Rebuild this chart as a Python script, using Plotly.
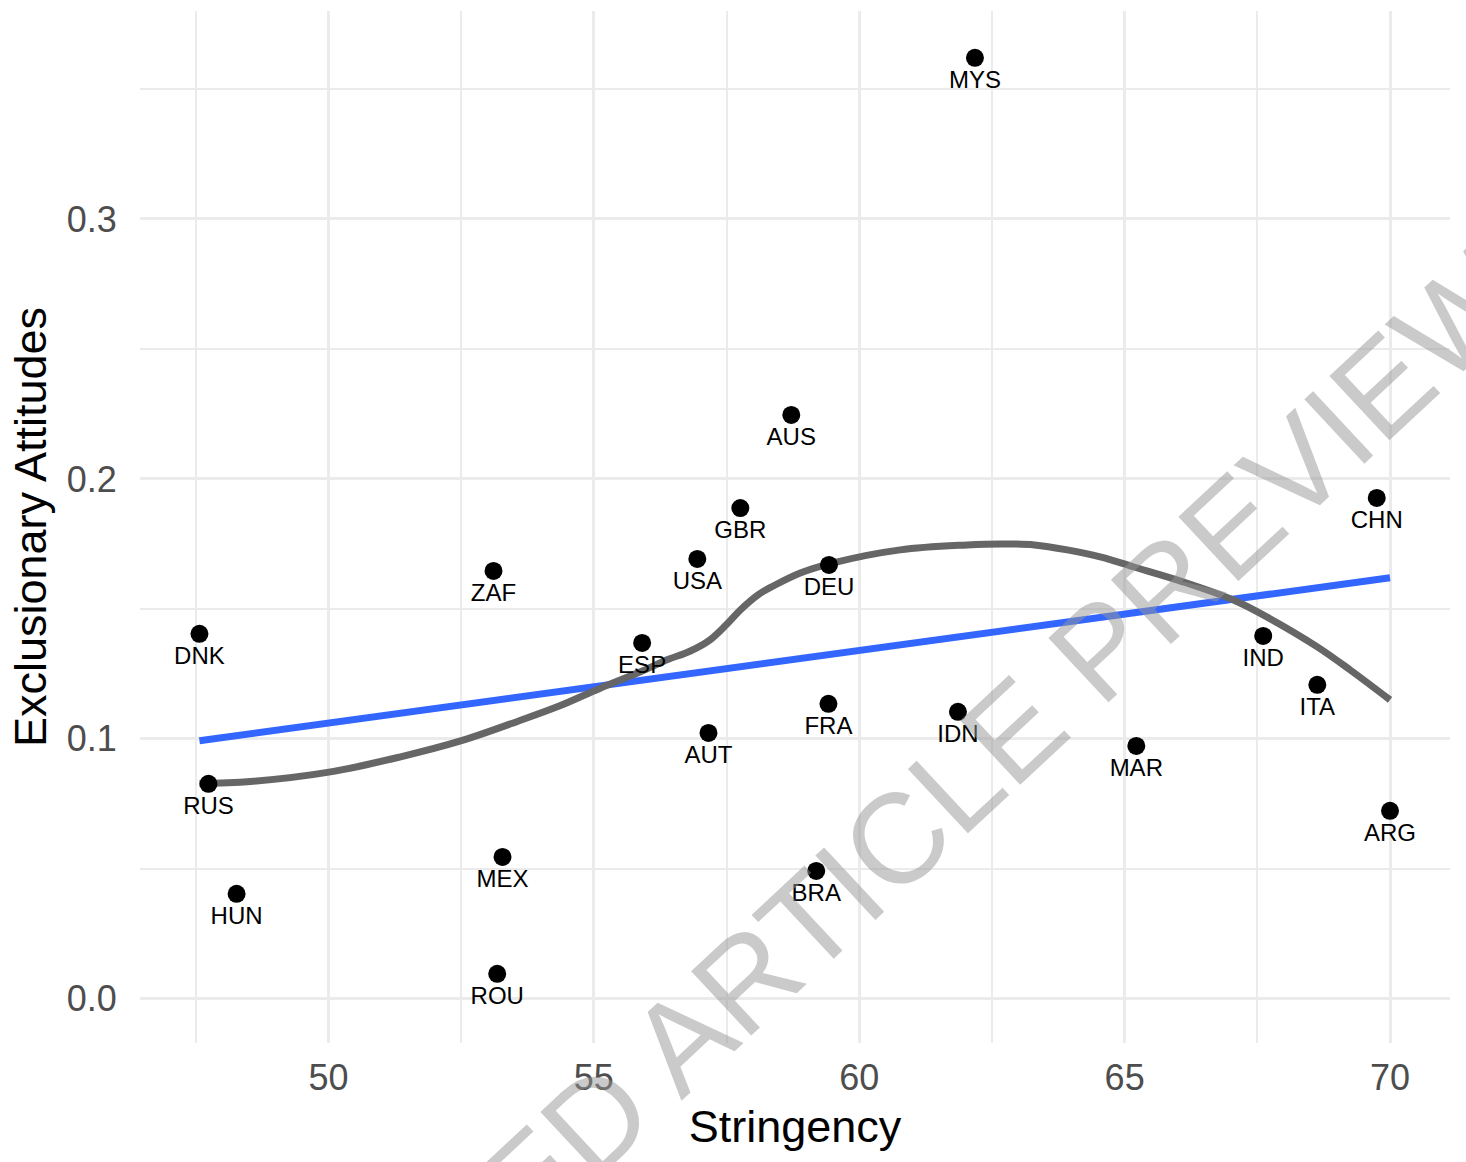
import numpy as np
import plotly.graph_objects as go

# ---- data ----
countries = ["MYS", "AUS", "GBR", "USA", "ZAF", "DEU", "CHN", "DNK", "ESP", "IND", "ITA",
             "FRA", "IDN", "AUT", "MAR", "RUS", "ARG", "MEX", "BRA", "HUN", "ROU"]
stringency = [62.18, 58.72, 57.76, 56.95, 53.11, 59.43, 69.75, 47.57, 55.91, 67.61, 68.63,
              59.42, 61.86, 57.16, 65.22, 47.74, 70.00, 53.28, 59.19, 48.27, 53.18]
exclusionary = [0.362, 0.2246, 0.1888, 0.1692, 0.1646, 0.1669, 0.1927, 0.1404, 0.1369, 0.1396, 0.1208,
                0.1135, 0.1104, 0.1023, 0.0973, 0.0827, 0.0723, 0.0546, 0.0492, 0.0404, 0.0096]

# loess curve
smooth_x = [47.57, 48.53, 50.04, 51.36, 52.49, 53.56, 54.37, 55.12, 55.88, 56.38, 56.82, 57.19,
            57.50, 57.76, 58.10, 58.38, 58.89, 59.51, 60.77, 62.03, 62.66, 63.30, 63.92, 64.54,
            65.16, 66.10, 67.04, 67.68, 68.63, 69.25, 70.00]
smooth_y = [0.0828, 0.0836, 0.0873, 0.0931, 0.0992, 0.1067, 0.1128, 0.1195, 0.1258, 0.1304, 0.1338, 0.1381,
            0.1440, 0.1496, 0.1555, 0.1588, 0.1638, 0.1677, 0.1727, 0.1746, 0.1750, 0.1746, 0.1727, 0.1700,
            0.1662, 0.1604, 0.1535, 0.1469, 0.1354, 0.1265, 0.1150]

x_ticks = [50, 55, 60, 65, 70]
x_minor = [47.5, 52.5, 57.5, 62.5, 67.5]
y_ticks = [0.0, 0.1, 0.2, 0.3]
y_tick_labels = ["0.0", "0.1", "0.2", "0.3"]
y_minor = [0.05, 0.15, 0.25, 0.35]

# linear fit (geom_smooth method = "lm")
xs = np.array(stringency)
ys = np.array(exclusionary)
slope, intercept = np.polyfit(xs, ys, 1)
lm_x = np.array([xs.min(), xs.max()])
lm_y = intercept + slope * lm_x

FONT = "Liberation Sans, Arial, Helvetica, sans-serif"
GRID = "#EBEBEB"

fig = go.Figure()

fig.add_trace(go.Scatter(
    x=lm_x, y=lm_y, mode="lines",
    line=dict(color="#3366FF", width=7),
    showlegend=False, hoverinfo="skip"))

fig.add_trace(go.Scatter(
    x=smooth_x, y=smooth_y, mode="lines",
    line=dict(color="#666666", width=7, shape="spline", smoothing=1.0),
    showlegend=False, hoverinfo="skip"))

fig.add_trace(go.Scatter(
    x=stringency, y=exclusionary, mode="markers+text",
    text=countries, textposition="bottom center",
    textfont=dict(family=FONT, size=24, color="black"),
    marker=dict(color="black", size=18, line=dict(width=0)),
    showlegend=False))

fig.add_annotation(
    text="ACCEPTED ARTICLE PREVIEW",
    xref="paper", yref="paper", x=0.5125, y=0.121,
    xanchor="center", yanchor="middle",
    textangle=-43, showarrow=False,
    font=dict(family=FONT, size=128, color="rgba(150,150,150,0.5)"))

fig.update_layout(
    width=1466, height=1162,
    margin=dict(l=140, r=16, t=11, b=119),
    paper_bgcolor="white", plot_bgcolor="white",
    font=dict(family=FONT, color="black"),
    xaxis=dict(
        range=[46.45, 71.13],
        tickmode="array", tickvals=x_ticks,
        tickfont=dict(family=FONT, size=36, color="#4D4D4D"),
        ticks="outside", ticklen=3, tickcolor="rgba(0,0,0,0)",
        showgrid=True, gridcolor=GRID, gridwidth=3,
        minor=dict(tickmode="array", tickvals=x_minor, showgrid=True,
                   gridcolor=GRID, gridwidth=2, ticks=""),
        zeroline=False, showline=False,
        title=dict(text="Stringency", font=dict(family=FONT, size=45, color="black"), standoff=13),
    ),
    yaxis=dict(
        range=[-0.017, 0.380],
        tickmode="array", tickvals=y_ticks, ticktext=y_tick_labels,
        tickfont=dict(family=FONT, size=36, color="#4D4D4D"),
        ticks="outside", ticklen=15, tickcolor="rgba(0,0,0,0)",
        showgrid=True, gridcolor=GRID, gridwidth=3,
        minor=dict(tickmode="array", tickvals=y_minor, showgrid=True,
                   gridcolor=GRID, gridwidth=2, ticks=""),
        zeroline=False, showline=False,
        title=dict(text="Exclusionary Attitudes", font=dict(family=FONT, size=45, color="black"), standoff=6),
    ),
)

fig.write_html("out.html")
